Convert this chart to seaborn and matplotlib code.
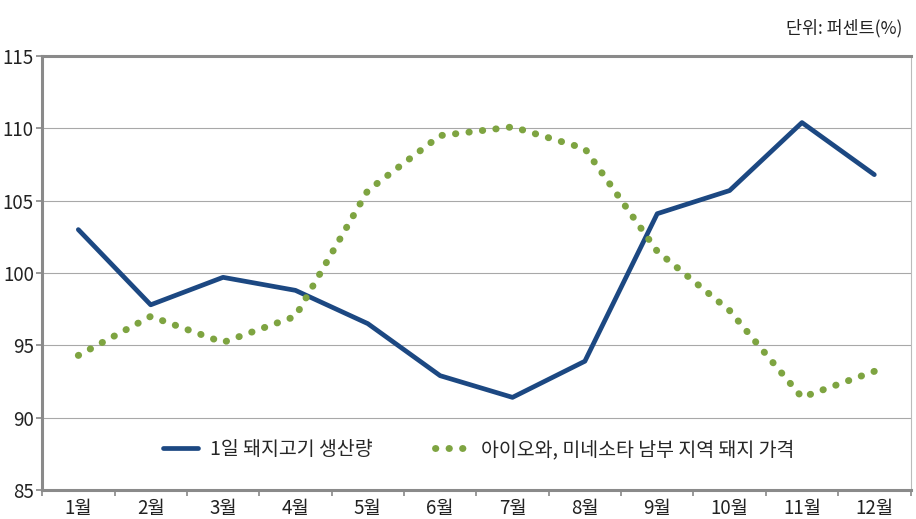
import matplotlib
matplotlib.use("Agg")
import matplotlib.pyplot as plt
import seaborn as sns
import pandas as pd
import numpy as np

months = ["1월", "2월", "3월", "4월", "5월", "6월", "7월", "8월", "9월", "10월", "11월", "12월"]
production = [103.0, 97.8, 99.7, 98.8, 96.5, 92.9, 91.4, 93.9, 104.1, 105.7, 110.4, 106.8]
price = [94.3, 97.0, 95.2, 97.0, 105.7, 109.5, 110.1, 108.6, 101.5, 97.4, 91.4, 93.2]
label_prod = "1일 돼지고기 생산량"
label_price = "아이오와, 미네소타 남부 지역 돼지 가격"

sns.set_theme(style="white")
plt.rcParams['font.family'] = ['Noto Sans CJK KR', 'DejaVu Sans']

df = pd.DataFrame({"month": np.arange(len(months)), "prod": production, "price": price})

fig = plt.figure(figsize=(9.16, 5.19), dpi=100)
ax = fig.add_axes([0.046, 0.056, 0.948, 0.836])

ax.set_ylim(85, 115)
ax.set_xlim(-0.5, 11.5)
ax.set_yticks(range(85, 116, 5))
ax.yaxis.grid(True, color="#a8a8a8", linewidth=0.8)
ax.set_axisbelow(True)

sns.lineplot(data=df, x="month", y="prod", ax=ax, color="#1c4882", linewidth=3.4,
             label=label_prod, solid_capstyle="round")
sns.lineplot(data=df, x="month", y="price", ax=ax, color="#7ea441", linewidth=5.0,
             linestyle=(0, (0.05, 1.9)), dash_capstyle="round", label=label_price)

ax.set_xlabel("")
ax.set_ylabel("")
ax.set_xticks(np.arange(len(months)))
ax.set_xticklabels(months)
ax.set_xticks(np.arange(-0.5, 12, 1), minor=True)
ax.tick_params(axis="x", which="major", length=0, labelsize=13.5, pad=6, colors="#222222")
ax.tick_params(axis="x", which="minor", length=4, width=1.2, color="#888888", direction="out", bottom=True)
ax.tick_params(axis="y", length=4, width=1.2, color="#888888", direction="out", left=True,
               labelsize=13.5, pad=2, labelcolor="#222222")

for s in ["left", "bottom", "top"]:
    ax.spines[s].set_color("#8a8a8a")
    ax.spines[s].set_linewidth(2.2)
ax.spines["right"].set_color("#bbbbbb")
ax.spines["right"].set_linewidth(0.8)

leg = ax.legend(loc="lower center", bbox_to_anchor=(0.503, 0.02), ncol=2, frameon=True,
                fontsize=14, handlelength=1.8, handletextpad=0.6, columnspacing=3.2, borderpad=0.6)
leg.get_frame().set_facecolor("white")
leg.get_frame().set_edgecolor("white")
leg.get_frame().set_alpha(1)

fig.text(0.985, 0.945, "단위: 퍼센트(%)", ha="right", va="center", fontsize=12.5, color="#222222")

fig.savefig("out.png", dpi=100)
